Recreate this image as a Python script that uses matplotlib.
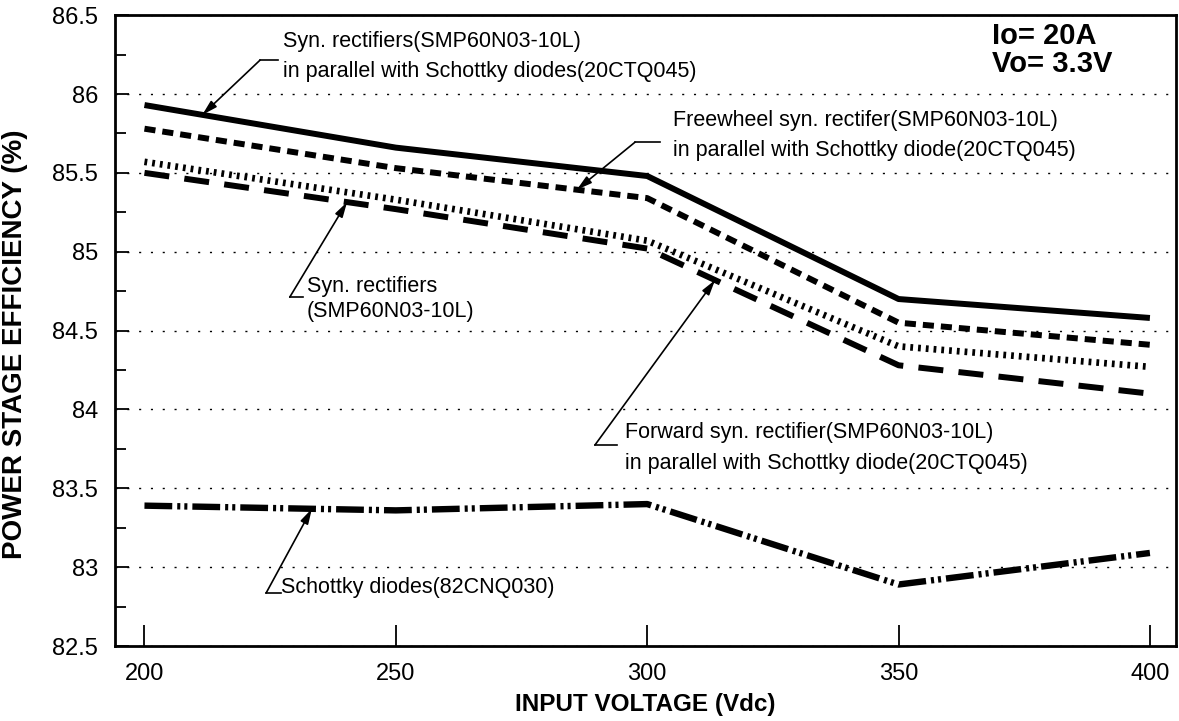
import numpy as np
import matplotlib
matplotlib.use('Agg')
import matplotlib.pyplot as plt

# Efficiency data (%)
voltage = [200, 250, 300, 350, 400]
syn_parallel = [85.93, 85.66, 85.48, 84.70, 84.58]
freewheel = [85.78, 85.53, 85.34, 84.55, 84.41]
syn_only = [85.57, 85.33, 85.07, 84.40, 84.27]
forward = [85.50, 85.27, 85.02, 84.28, 84.10]
schottky = [83.39, 83.36, 83.40, 82.89, 83.09]

x_ticks = [200, 250, 300, 350, 400]
y_major = [82.5, 83, 83.5, 84, 84.5, 85, 85.5, 86, 86.5]
y_minor = [82.75, 83.25, 83.75, 84.25, 84.75, 85.25, 85.75, 86.25]

plt.rcParams['font.family'] = ['Liberation Sans', 'DejaVu Sans']
plt.rcParams['lines.scale_dashes'] = False

fig = plt.figure(figsize=(11.79, 7.21), dpi=100)
ax = fig.add_axes([0.0975, 0.104, 0.9, 0.875])

lw = 4.3
ax.plot(voltage, syn_parallel, color='black', lw=lw, solid_capstyle='butt')
ax.plot(voltage, freewheel, color='black', lw=lw, dashes=(8, 5))
ax.plot(voltage, syn_only, color='black', lw=4.8, dashes=(2, 3.6))
ax.plot(voltage, forward, color='black', lw=lw, dashes=(18, 11))
ax.plot(voltage, schottky, color='black', lw=4.6, dashes=(20, 3.6, 2.2, 2.9, 2.2, 3.6))

ax.set_xlim(194.13, 405.2)
ax.set_ylim(82.5, 86.5)
ax.set_xticks(x_ticks)
ax.set_yticks(y_major)
ax.set_yticks(y_minor, minor=True)
ax.set_yticklabels([f'{v:g}' for v in y_major])
ax.tick_params(axis='y', which='major', direction='in', length=10, width=1.3,
               labelsize=17, pad=12)
ax.tick_params(axis='y', which='minor', direction='in', length=8, width=1.3)
ax.tick_params(axis='x', direction='in', length=15, width=1.3, labelsize=17, pad=12)

for s in ax.spines.values():
    s.set_linewidth(2)

ax.grid(axis='y', which='major', color='black', lw=1.0, linestyle=(0, (1.5, 7)))

ax.set_xlabel('INPUT VOLTAGE (Vdc)', fontsize=17.5, fontweight='bold')
ax.xaxis.set_label_coords(0.5, -0.075)
ax.set_ylabel('POWER STAGE EFFICIENCY (%)', fontsize=20, fontweight='bold')
ax.yaxis.set_label_coords(-0.082, 0.479)

# Annotations: arrow tips sit on the curves
arrow = dict(arrowstyle='-|>,head_length=0.9,head_width=0.25', color='black',
             lw=1.2, shrinkA=0, shrinkB=0)
fs = 15.5


def label(txt, tx, ty, knee, tail, tip_x, series, spacing):
    tip = (tip_x, np.interp(tip_x, voltage, series))
    ax.annotate('', xy=tip, xytext=knee, arrowprops=arrow)
    ax.plot([knee[0], tail], [knee[1], knee[1]], color='black', lw=1.2)
    ax.text(tx, ty, txt, fontsize=fs, ha='left', va='center', linespacing=spacing)


label('Syn. rectifiers(SMP60N03-10L)\nin parallel with Schottky diodes(20CTQ045)',
      227.6, 86.237, (223.0, 86.215), 226.6, 211.5, syn_parallel, 1.55)
label('Freewheel syn. rectifer(SMP60N03-10L)\nin parallel with Schottky diode(20CTQ045)',
      305.1, 85.739, (297.6, 85.695), 302.5, 286.0, freewheel, 1.58)
label('Syn. rectifiers\n(SMP60N03-10L)',
      232.3, 84.70, (228.9, 84.712), 231.5, 240.3, forward, 1.3)
label('Forward syn. rectifier(SMP60N03-10L)\nin parallel with Schottky diode(20CTQ045)',
      295.6, 83.758, (289.6, 83.774), 294.0, 313.5, forward, 1.62)
label('Schottky diodes(82CNQ030)',
      227.2, 82.874, (224.2, 82.836), 227.2, 233.3, schottky, 1.2)

ax.text(368.6, 86.278, 'Io= 20A\nVo= 3.3V', fontsize=21, fontweight='bold',
        ha='left', va='center', linespacing=1.03)

fig.savefig('out.png', dpi=100)
